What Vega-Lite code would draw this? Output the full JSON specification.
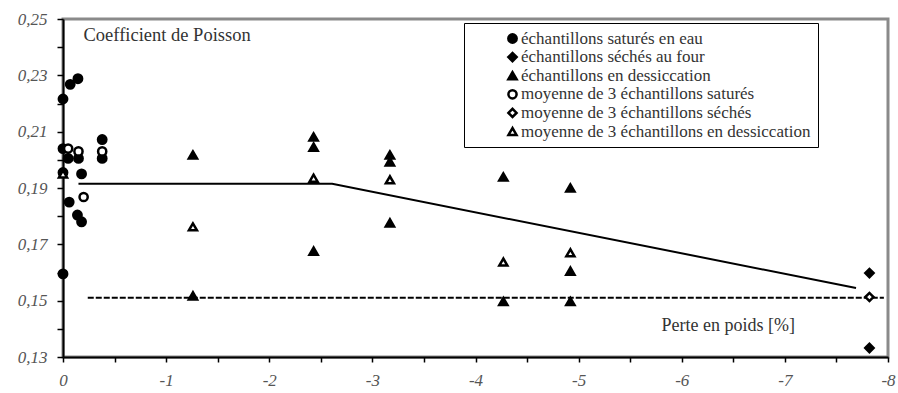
{
  "$schema": "https://vega.github.io/schema/vega-lite/v6.json",
  "width": 825,
  "height": 338,
  "autosize": "none",
  "padding": {"left": 63, "top": 19, "right": 10, "bottom": 36},
  "background": "white",
  "config": {
    "font": "Liberation Serif",
    "view": {"stroke": "#8a8a8a", "strokeWidth": 3},
    "axis": {
      "grid": false,
      "domainColor": "black",
      "domainWidth": 2,
      "tickColor": "black",
      "tickWidth": 1.5,
      "labelFont": "Liberation Serif",
      "labelFontStyle": "italic",
      "labelFontSize": 17,
      "labelColor": "#555555",
      "labelFlush": false,
      "labelOverlap": false,
      "titleFont": "Liberation Serif",
      "titleFontWeight": "normal",
      "titleColor": "#333333"
    },
    "legend": {
      "labelFont": "Liberation Serif",
      "labelFontSize": 17,
      "labelColor": "#333333",
      "labelLimit": 0
    }
  },
  "encoding": {
    "x": {
      "field": "x",
      "type": "quantitative",
      "scale": {"domain": [-8, 0], "reverse": true, "nice": false, "zero": false},
      "axis": {
        "values": [0, -0.5, -1, -1.5, -2, -2.5, -3, -3.5, -4, -4.5, -5, -5.5, -6, -6.5, -7, -7.5, -8],
        "labelExpr": "datum.value % 1 != 0 ? '' : (datum.value == 0 ? '0' : '' + datum.value)",
        "tickSize": 5,
        "labelPadding": 10,
        "title": "Perte en poids  [%]",
        "titleFontSize": 18,
        "titleX": 598,
        "titleY": -32,
        "titleAlign": "left",
        "titleBaseline": "middle",
        "titleAngle": 0
      }
    },
    "y": {
      "field": "y",
      "type": "quantitative",
      "scale": {"domain": [0.13, 0.25], "nice": false, "zero": false},
      "axis": {
        "values": [0.13, 0.14, 0.15, 0.16, 0.17, 0.18, 0.19, 0.2, 0.21, 0.22, 0.23, 0.24, 0.25],
        "labelExpr": "round(datum.value * 100) % 2 == 0 ? '' : replace(format(datum.value, '.2f'), '.', ',')",
        "tickSize": 6,
        "labelPadding": 10,
        "title": "Coefficient de Poisson",
        "titleFontSize": 18.5,
        "titleAngle": 0,
        "titleX": 20,
        "titleY": 15,
        "titleAlign": "left",
        "titleBaseline": "middle"
      }
    }
  },
  "layer": [
    {
      "data": {"values": [
        {"x": -0.15, "y": 0.1915},
        {"x": -2.61, "y": 0.1915},
        {"x": -7.69, "y": 0.1545}
      ]},
      "mark": {"type": "line", "color": "black", "strokeWidth": 2},
      "encoding": {}
    },
    {
      "data": {"values": [
        {"x": -0.24, "y": 0.151},
        {"x": -7.96, "y": 0.151}
      ]},
      "mark": {"type": "line", "color": "black", "strokeWidth": 2, "strokeDash": [6, 2]},
      "encoding": {}
    },
    {
      "data": {"values": [
        {"s": "échantillons saturés en eau", "x": 0, "y": 0.2216},
        {"s": "échantillons saturés en eau", "x": -0.07, "y": 0.2268},
        {"s": "échantillons saturés en eau", "x": -0.145, "y": 0.2288},
        {"s": "échantillons saturés en eau", "x": 0, "y": 0.204},
        {"s": "échantillons saturés en eau", "x": -0.05, "y": 0.2005},
        {"s": "échantillons saturés en eau", "x": -0.15, "y": 0.2005},
        {"s": "échantillons saturés en eau", "x": -0.18, "y": 0.195},
        {"s": "échantillons saturés en eau", "x": 0, "y": 0.1955},
        {"s": "échantillons saturés en eau", "x": -0.06, "y": 0.185},
        {"s": "échantillons saturés en eau", "x": -0.14, "y": 0.1804},
        {"s": "échantillons saturés en eau", "x": -0.18, "y": 0.178},
        {"s": "échantillons saturés en eau", "x": 0, "y": 0.1595},
        {"s": "échantillons saturés en eau", "x": -0.38, "y": 0.2072},
        {"s": "échantillons saturés en eau", "x": -0.38, "y": 0.2005},
        {"s": "échantillons séchés au four", "x": -7.82, "y": 0.1598},
        {"s": "échantillons séchés au four", "x": -7.82, "y": 0.1332},
        {"s": "échantillons en dessiccation", "x": -1.26, "y": 0.2017},
        {"s": "échantillons en dessiccation", "x": -1.26, "y": 0.1517},
        {"s": "échantillons en dessiccation", "x": -2.43, "y": 0.2081},
        {"s": "échantillons en dessiccation", "x": -2.43, "y": 0.2045},
        {"s": "échantillons en dessiccation", "x": -2.43, "y": 0.1676},
        {"s": "échantillons en dessiccation", "x": -3.17, "y": 0.2017},
        {"s": "échantillons en dessiccation", "x": -3.17, "y": 0.1993},
        {"s": "échantillons en dessiccation", "x": -3.17, "y": 0.1776},
        {"s": "échantillons en dessiccation", "x": -4.27, "y": 0.1939},
        {"s": "échantillons en dessiccation", "x": -4.27, "y": 0.1497},
        {"s": "échantillons en dessiccation", "x": -4.92, "y": 0.19},
        {"s": "échantillons en dessiccation", "x": -4.92, "y": 0.1605},
        {"s": "échantillons en dessiccation", "x": -4.92, "y": 0.1497},
        {"s": "moyenne de 3 échantillons saturés", "x": -0.05, "y": 0.204},
        {"s": "moyenne de 3 échantillons saturés", "x": -0.15, "y": 0.203},
        {"s": "moyenne de 3 échantillons saturés", "x": -0.2, "y": 0.1868},
        {"s": "moyenne de 3 échantillons saturés", "x": -0.38, "y": 0.203},
        {"s": "moyenne de 3 échantillons séchés", "x": -7.82, "y": 0.1513},
        {"s": "moyenne de 3 échantillons en dessiccation", "x": 0, "y": 0.195},
        {"s": "moyenne de 3 échantillons en dessiccation", "x": -1.26, "y": 0.1762},
        {"s": "moyenne de 3 échantillons en dessiccation", "x": -2.43, "y": 0.1935},
        {"s": "moyenne de 3 échantillons en dessiccation", "x": -3.17, "y": 0.1929},
        {"s": "moyenne de 3 échantillons en dessiccation", "x": -4.27, "y": 0.1637},
        {"s": "moyenne de 3 échantillons en dessiccation", "x": -4.92, "y": 0.167}
      ]},
      "mark": {"type": "point", "filled": true, "strokeWidth": 2.5, "opacity": 1},
      "encoding": {
        "shape": {
          "field": "s",
          "type": "nominal",
          "scale": {
            "domain": ["échantillons saturés en eau", "échantillons séchés au four", "échantillons en dessiccation", "moyenne de 3 échantillons saturés", "moyenne de 3 échantillons séchés", "moyenne de 3 échantillons en dessiccation"],
            "range": ["circle", "diamond", "triangle-up", "circle", "diamond", "triangle-up"]
          },
          "legend": {
            "title": null, "orient": "none", "legendX": 401, "legendY": 4,
            "strokeColor": "black", "fillColor": "white", "padding": 7,
            "symbolOffset": 33, "labelOffset": 0, "rowPadding": -0.4,
            "symbolStrokeWidth": 2.5, "labelExpr": "datum.label + '             '"
          }
        },
        "fill": {
          "field": "s",
          "type": "nominal",
          "scale": {
            "domain": ["échantillons saturés en eau", "échantillons séchés au four", "échantillons en dessiccation", "moyenne de 3 échantillons saturés", "moyenne de 3 échantillons séchés", "moyenne de 3 échantillons en dessiccation"],
            "range": ["black", "black", "black", "white", "white", "white"]
          },
          "legend": {
            "title": null, "orient": "none", "legendX": 401, "legendY": 4,
            "strokeColor": "black", "fillColor": "white", "padding": 7,
            "symbolOffset": 33, "labelOffset": 0, "rowPadding": -0.4,
            "symbolStrokeWidth": 2.5, "labelExpr": "datum.label + '             '"
          }
        },
        "stroke": {
          "field": "s",
          "type": "nominal",
          "scale": {
            "domain": ["échantillons saturés en eau", "échantillons séchés au four", "échantillons en dessiccation", "moyenne de 3 échantillons saturés", "moyenne de 3 échantillons séchés", "moyenne de 3 échantillons en dessiccation"],
            "range": ["black", "black", "black", "black", "black", "black"]
          },
          "legend": {
            "title": null, "orient": "none", "legendX": 401, "legendY": 4,
            "strokeColor": "black", "fillColor": "white", "padding": 7,
            "symbolOffset": 33, "labelOffset": 0, "rowPadding": -0.4,
            "symbolStrokeWidth": 2.5, "labelExpr": "datum.label + '             '"
          }
        },
        "size": {
          "field": "s",
          "type": "nominal",
          "scale": {
            "domain": ["échantillons saturés en eau", "échantillons séchés au four", "échantillons en dessiccation", "moyenne de 3 échantillons saturés", "moyenne de 3 échantillons séchés", "moyenne de 3 échantillons en dessiccation"],
            "range": [70, 65, 80, 80, 70, 115]
          },
          "legend": {
            "title": null, "orient": "none", "legendX": 401, "legendY": 4,
            "strokeColor": "black", "fillColor": "white", "padding": 7,
            "symbolOffset": 33, "labelOffset": 0, "rowPadding": -0.4,
            "symbolStrokeWidth": 2.5, "labelExpr": "datum.label + '             '"
          }
        }
      }
    }
  ]
}
